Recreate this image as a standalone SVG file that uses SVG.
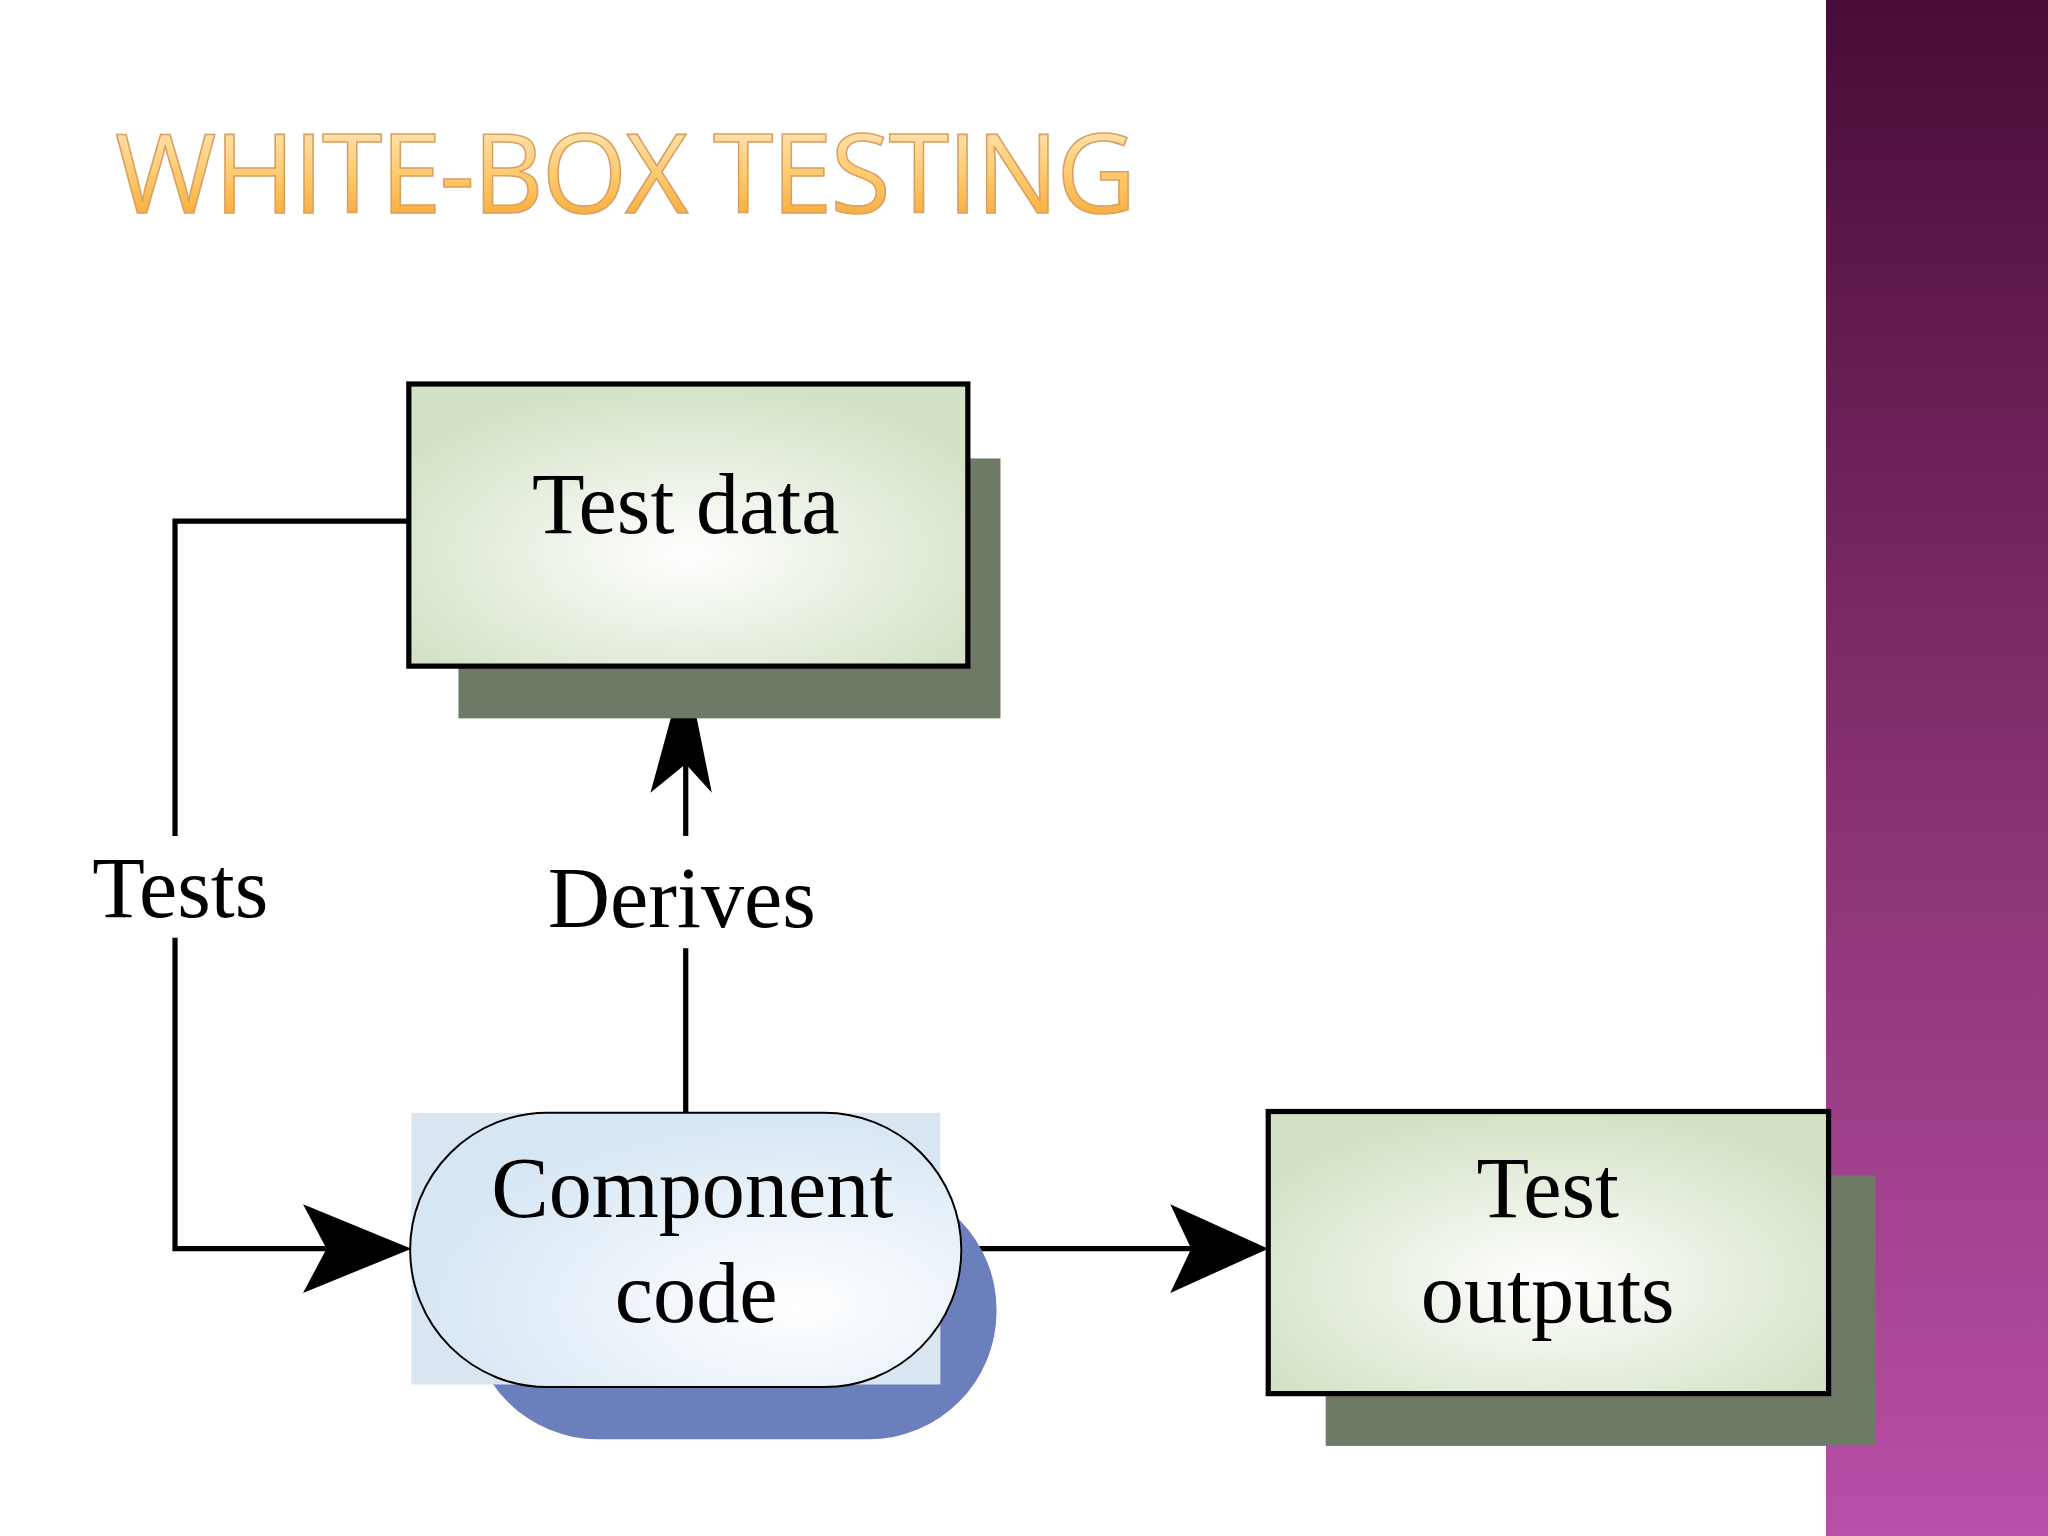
<svg xmlns="http://www.w3.org/2000/svg" width="2048" height="1536" viewBox="0 0 2048 1536">
<defs>
<linearGradient id="band" x1="0" y1="0" x2="0" y2="1"><stop offset="0" stop-color="#470c37"/><stop offset="0.5" stop-color="#86306f"/><stop offset="1" stop-color="#b94fa8"/></linearGradient>
<linearGradient id="title" x1="0" y1="0" x2="0" y2="1"><stop offset="0" stop-color="#fff3dc"/><stop offset="0.55" stop-color="#ffc86a"/><stop offset="1" stop-color="#f59a1e"/></linearGradient>
<radialGradient id="green" cx="0.5" cy="0.6" r="0.6"><stop offset="0" stop-color="#ffffff"/><stop offset="1" stop-color="#d3e2c6"/></radialGradient>
<radialGradient id="blue" cx="0.7" cy="0.7" r="0.7"><stop offset="0" stop-color="#ffffff"/><stop offset="1" stop-color="#d6e6f3"/></radialGradient>
<style>
.lbl{font-family:"Liberation Serif",serif;font-size:66px;fill:#000;text-anchor:middle}
.box{stroke:#000;stroke-width:4;fill:url(#green)}
.sh{fill:#6e7a66}
.ln{stroke:#000;stroke-width:4;fill:none}
</style>
</defs>
<rect width="2048" height="1536" fill="#fff"/>
<rect x="1826" y="0" width="222" height="1536" fill="url(#band)"/>
<g transform="scale(1.30612)">
<text x="88" y="163" font-family="Open Sans,sans-serif" font-size="84" fill="url(#title)" stroke="#d9a060" stroke-width="1.2" textLength="782">WHITE-BOX TESTING</text>
<g id="connectors">
<polyline class="ln" points="313,399 134,399 134,640"/>
<polyline class="ln" points="134,718 134,956 250,956"/>
<path d="M315,956 L232,922 L250,956 L232,990 Z"/>
<line class="ln" x1="525" y1="852" x2="525" y2="726"/>
<line class="ln" x1="525" y1="640" x2="525" y2="585"/>
<path d="M525,508 L498,607 L525,585 L545,607 Z"/>
<line class="ln" x1="736" y1="956" x2="912" y2="956"/>
<path d="M971,956 L896,922 L912,956 L896,990 Z"/>
<text class="lbl" x="138" y="702">Tests</text>
<text class="lbl" x="522" y="710">Derives</text>
</g>
<g id="testdata">
<rect class="sh" x="351" y="351" width="415" height="199"/>
<rect class="box" x="313" y="294" width="428" height="216"/>
<text class="lbl" x="525" y="408">Test data</text>
</g>
<g id="component">
<rect x="360" y="905" width="403" height="197" rx="98" fill="#6b7fbd"/>
<rect x="315" y="852" width="405" height="208" fill="#d9e6f2"/>
<rect x="314" y="852" width="422" height="210" rx="105" fill="url(#blue)" stroke="#000" stroke-width="1.5"/>
<text class="lbl" x="530" y="932">Component</text>
<text class="lbl" x="533" y="1012">code</text>
</g>
<g id="outputs">
<rect class="sh" x="1015" y="900" width="421" height="207"/>
<rect class="box" x="971" y="851" width="429" height="216"/>
<text class="lbl" x="1185" y="932">Test</text>
<text class="lbl" x="1185" y="1012">outputs</text>
</g>
</g>
</svg>
